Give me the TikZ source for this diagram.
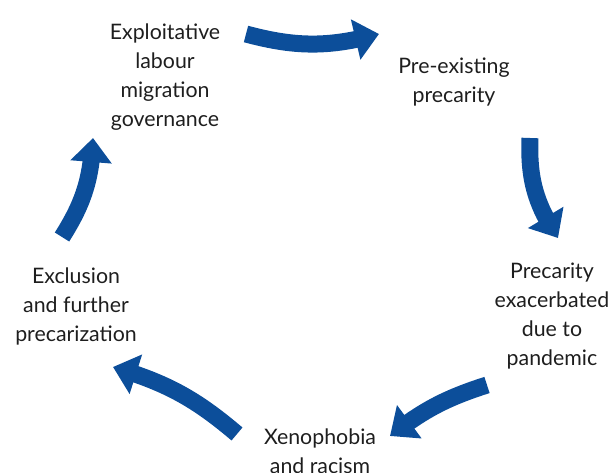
\documentclass[tikz,border=0pt]{standalone}
\usepackage{fontspec}
\setmainfont{Lato}
\usetikzlibrary{arrows.meta,bending}
\definecolor{cycleblue}{HTML}{0C4E9A}
\definecolor{dark}{HTML}{1E1E1E}

\begin{document}
\begin{tikzpicture}[x=0.75pt, y=-0.75pt,
  stage/.style={align=center, font=\fontsize{16}{21.75}\selectfont,
                text=dark, inner sep=0pt},
  cycle arrow/.style={-{Triangle[width=30pt,length=18pt]}, cycleblue,
                      line width=12.75pt}
]
  \useasboundingbox (0,0) rectangle (611,473);

  \node[stage] (gov) at (165,77) {Exploitative\\labour\\migration\\governance};
  \node[stage] (pre) at (454,82) {Pre-existing\\precarity};
  \node[stage] (pan) at (552,316) {Precarity\\exacerbated\\due to\\pandemic};
  \node[stage] (xen) at (320,451) {Xenophobia\\and racism};
  \node[stage] (exc) at (76,306) {Exclusion\\and further\\precarization};

  % arrow ends
  \coordinate (t1) at (246,34);  \coordinate (h1) at (379,34);
  \coordinate (t2) at (530,138); \coordinate (h2) at (558,238);
  \coordinate (t3) at (487,385); \coordinate (h3) at (390,436);
  \coordinate (t4) at (237,434); \coordinate (h4) at (113,367);
  \coordinate (t5) at (62,237);  \coordinate (h5) at (93,138);

  \draw[cycle arrow] (t1) to[bend right=15] (h1);
  \draw[cycle arrow] (t2) to[bend right=18] (h2);
  \draw[cycle arrow] (t3) to[bend right=10] (h3);
  \draw[cycle arrow] (t4) to[bend right=12] (h4);
  \draw[cycle arrow] (t5) to[bend right=15] (h5);
\end{tikzpicture}
\end{document}
